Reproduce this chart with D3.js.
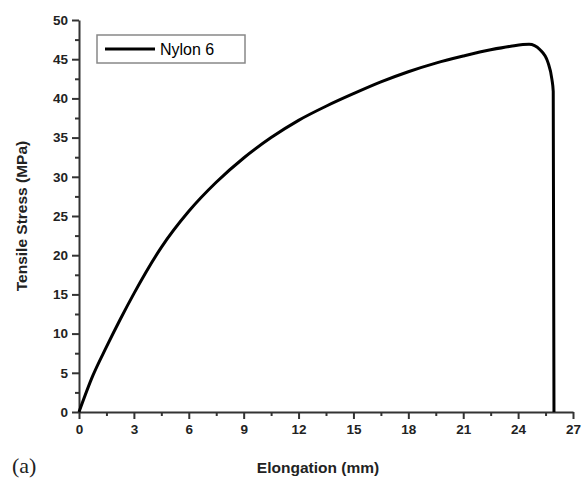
<!DOCTYPE html>
<html>
<head>
<meta charset="utf-8">
<script src="https://cdn.jsdelivr.net/npm/d3@7"></script>
<style>
  body { margin: 0; background: #fff; }
  text { font-family: "Liberation Sans", Arial, sans-serif; }
</style>
</head>
<body>
<svg id="chart"></svg>
<script>
// Nylon 6 tensile curve
let elongation = [0, 0.75, 1.5, 2.25, 3, 4.5, 6, 7.5, 9, 10.5, 12, 13.5, 15, 16.5, 18, 19.5, 21, 22.5, 23.6, 24.6, 25.2, 25.63, 25.85, 25.92, 25.96];
let stress     = [0, 4.6, 8.3, 11.8, 15.1, 21.0, 25.6, 29.3, 32.4, 35.0, 37.2, 39.0, 40.6, 42.1, 43.4, 44.5, 45.4, 46.2, 46.65, 46.9, 46.2, 44.6, 42.4, 40.9, 0];
let xTicks = [0, 3, 6, 9, 12, 15, 18, 21, 24, 27];
let yTicks = [0, 5, 10, 15, 20, 25, 30, 35, 40, 45, 50];
let seriesName = 'Nylon 6';

let width = 582,
    height = 487,
    margin = {left: 79, right: 9, top: 20, bottom: 75};

let svg = d3.select('#chart')
            .attr('width', width)
            .attr('height', height);

let x = d3.scaleLinear()
          .domain([0, 27])
          .range([margin.left, width - margin.right]);

let y = d3.scaleLinear()
          .domain([0, 50])
          .range([height - margin.bottom, margin.top]);

let data = elongation.map((d, i) => ({x: d, y: stress[i]}));

// minor ticks first (no labels)
svg.append('g')
    .attr('transform', `translate(0,${y(0)})`)
    .call(d3.axisBottom(x).tickValues(d3.range(1.5, 27, 3)).tickSize(4).tickFormat(''))
    .call(g => g.select('.domain').remove());

svg.append('g')
    .attr('transform', `translate(${x(0)},0)`)
    .call(d3.axisLeft(y).tickValues(d3.range(2.5, 50, 5)).tickSize(4).tickFormat(''))
    .call(g => g.select('.domain').remove());

svg.append('g')
    .attr('transform', `translate(0,${y(0)})`)
    .call(d3.axisBottom(x).tickValues(xTicks).tickSize(7).tickSizeOuter(0).tickPadding(5));

svg.append('g')
    .attr('transform', `translate(${x(0)},0)`)
    .call(d3.axisLeft(y).tickValues(yTicks).tickSize(7).tickSizeOuter(0).tickPadding(4));

svg.selectAll('.tick line, .domain')
    .attr('stroke', '#333')
    .attr('stroke-width', 2);

svg.selectAll('.tick text')
    .attr('font-size', 13.5)
    .attr('font-weight', 'bold')
    .attr('fill', '#222');

// the curve
svg.append('path')
    .datum(data)
    .attr('fill', 'none')
    .attr('stroke', '#000')
    .attr('stroke-width', 3)
    .attr('stroke-linejoin', 'round')
    .attr('d', d3.line()
                .x(d => x(d.x))
                .y(d => y(d.y))
                .curve(d3.curveMonotoneX));

// legend
let legend = svg.append('g').attr('transform', 'translate(97,35)');
legend.append('rect')
    .attr('width', 148)
    .attr('height', 28)
    .attr('fill', '#fff')
    .attr('stroke', '#888')
    .attr('stroke-width', 1.5);
legend.append('line')
    .attr('x1', 8).attr('x2', 58)
    .attr('y1', 14).attr('y2', 14)
    .attr('stroke', '#000')
    .attr('stroke-width', 3);
legend.append('text')
    .attr('x', 63)
    .attr('y', 20)
    .attr('font-size', 16)
    .text(seriesName);

// axis titles
svg.append('text')
    .attr('x', 318)
    .attr('y', 473)
    .attr('text-anchor', 'middle')
    .attr('font-size', 15.5)
    .attr('font-weight', 'bold')
    .attr('fill', '#222')
    .text('Elongation (mm)');

svg.append('text')
    .attr('transform', 'translate(27,216) rotate(-90)')
    .attr('text-anchor', 'middle')
    .attr('font-size', 15.5)
    .attr('font-weight', 'bold')
    .attr('fill', '#222')
    .text('Tensile Stress (MPa)');

svg.append('text')
    .attr('x', 12)
    .attr('y', 473)
    .attr('font-size', 22)
    .attr('fill', '#222')
    .style('font-family', '"Liberation Serif", serif')
    .text('(a)');
</script>
</body>
</html>
